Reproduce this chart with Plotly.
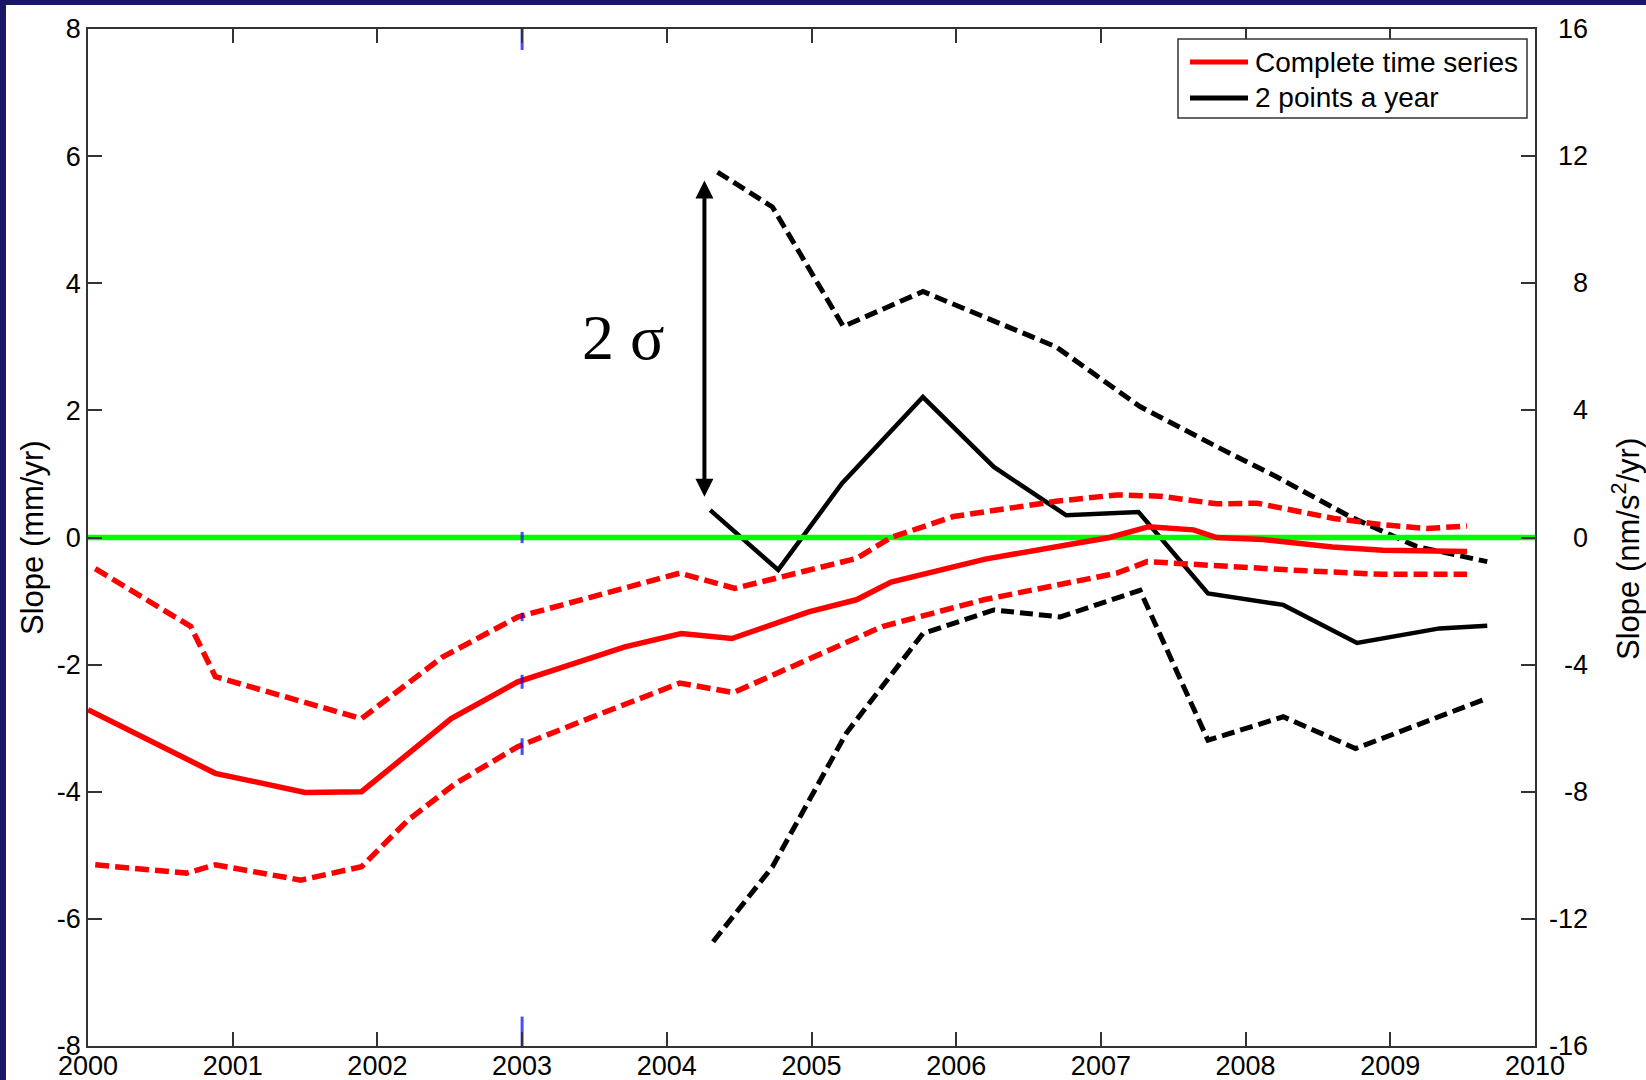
import plotly.graph_objects as go

# ---------------- data ----------------
x_range = [2000, 2010]
x_ticks = list(range(2000, 2011))
x_tick_labels = [str(v) for v in x_ticks]
left_ticks = [-8, -6, -4, -2, 0, 2, 4, 6, 8]
left_tick_labels = ["-8", "-6", "-4", "-2", "0", "2", "4", "6", "8"]
right_ticks = [-16, -12, -8, -4, 0, 4, 8, 12, 16]
right_tick_labels = ["-16", "-12", "-8", "-4", "0", "4", "8", "12", "16"]

# Complete time series (mm/yr)
red_x = [2000.0, 2000.88, 2001.50, 2001.89, 2002.51, 2002.97, 2003.71, 2004.10, 2004.45,
         2004.98, 2005.31, 2005.55, 2006.20, 2006.65, 2007.06, 2007.33, 2007.64, 2007.80,
         2008.12, 2008.60, 2008.95, 2009.53]
red_y = [-2.71, -3.71, -4.01, -4.00, -2.85, -2.27, -1.72, -1.51, -1.59,
         -1.17, -0.98, -0.70, -0.34, -0.17, 0.00, 0.17, 0.12, 0.00,
         -0.03, -0.15, -0.20, -0.22]
red_up_x = [2000.05, 2000.71, 2000.88, 2001.89, 2002.45, 2002.97, 2004.09, 2004.47, 2005.31,
            2005.55, 2005.98, 2006.69, 2007.11, 2007.41, 2007.80, 2008.08, 2008.61, 2008.95,
            2009.25, 2009.53]
red_up_y = [-0.49, -1.40, -2.19, -2.85, -1.88, -1.25, -0.56, -0.80, -0.33,
            0.00, 0.33, 0.57, 0.67, 0.65, 0.53, 0.54, 0.30, 0.20,
            0.14, 0.18]
red_lo_x = [2000.05, 2000.68, 2000.88, 2001.47, 2001.89, 2002.21, 2002.54, 2002.97, 2003.49,
            2004.09, 2004.46, 2005.49, 2006.19, 2006.67, 2007.11, 2007.32, 2007.68, 2008.03,
            2008.38, 2008.95, 2009.53]
red_lo_y = [-5.15, -5.28, -5.15, -5.39, -5.18, -4.45, -3.87, -3.29, -2.82,
            -2.29, -2.44, -1.40, -0.98, -0.77, -0.56, -0.38, -0.43, -0.46,
            -0.52, -0.58, -0.58]

# 2 points a year (mm/yr)
blk_x = [2004.30, 2004.77, 2005.21, 2005.77, 2006.26, 2006.76, 2007.26, 2007.74, 2008.26,
         2008.77, 2009.34, 2009.67]
blk_y = [0.43, -0.51, 0.85, 2.21, 1.11, 0.35, 0.40, -0.88, -1.06,
         -1.66, -1.43, -1.39]
blk_up_x = [2004.35, 2004.73, 2005.22, 2005.77, 2006.69, 2007.27, 2007.80, 2008.21, 2008.72,
            2009.18, 2009.67]
blk_up_y = [5.75, 5.20, 3.32, 3.87, 3.00, 2.06, 1.43, 0.96, 0.33,
            -0.14, -0.38]
blk_lo_x = [2004.32, 2004.73, 2005.24, 2005.77, 2006.26, 2006.72, 2007.27, 2007.74, 2008.26,
            2008.76, 2009.67]
blk_lo_y = [-6.36, -5.18, -3.08, -1.51, -1.14, -1.25, -0.83, -3.19, -2.82,
            -3.32, -2.53]

zero_level = [0, 0]

# legend entries
legend_labels = ["Complete time series", "2 points a year"]
legend_colors = ["red", "black"]

# small blue marks at 2003
blue_x = 2003
blue_levels = [8, 0, -1.25, -2.27, -3.29, -8]

# 2 sigma arrow
sigma_x = 2004.26
sigma_top = 5.64
sigma_bottom = 0.64
sigma_label_x = 2003.70
sigma_label_y = 3.14

# ---------------- styles ----------------
FONT = "Liberation Sans, Arial, sans-serif"
NAVY = "#1a1866"
AX = "#333333"
TICK_SIZE = 27
blue_sizes = [30, 8, 6, 10, 12, 42]

ML, MR, MT, MB = 88, 111, 29, 34
W, H = 1646, 1080
PW, PH = W - ML - MR, H - MT - MB


def px2paper_x(px):
    return (px - ML) / PW


def px2paper_y(py):
    return (H - MB - py) / PH


fig = go.Figure()

# black series
fig.add_trace(go.Scatter(x=blk_up_x, y=blk_up_y, mode="lines", showlegend=False,
                         line=dict(color="black", width=5, dash="13px,6px")))
fig.add_trace(go.Scatter(x=blk_lo_x, y=blk_lo_y, mode="lines", showlegend=False,
                         line=dict(color="black", width=5, dash="13px,6px")))
fig.add_trace(go.Scatter(x=blk_x, y=blk_y, mode="lines", name=legend_labels[1],
                         showlegend=False, line=dict(color="black", width=4.5)))

# green zero line
fig.add_trace(go.Scatter(x=x_range, y=zero_level, mode="lines", showlegend=False,
                         line=dict(color="#00ff00", width=5.5), hoverinfo="skip"))

# red series
fig.add_trace(go.Scatter(x=red_up_x, y=red_up_y, mode="lines", showlegend=False,
                         line=dict(color="red", width=5.5, dash="14px,6px")))
fig.add_trace(go.Scatter(x=red_lo_x, y=red_lo_y, mode="lines", showlegend=False,
                         line=dict(color="red", width=5.5, dash="14px,6px")))
fig.add_trace(go.Scatter(x=red_x, y=red_y, mode="lines", name=legend_labels[0],
                         showlegend=False, line=dict(color="red", width=5.5)))

# blue marks
fig.add_trace(go.Scatter(x=[blue_x] * len(blue_levels), y=blue_levels, mode="markers",
                         showlegend=False, hoverinfo="skip",
                         marker=dict(symbol="line-ns", size=blue_sizes,
                                     line=dict(color="blue", width=3))))

# invisible trace for right axis
fig.add_trace(go.Scatter(x=x_range, y=zero_level, yaxis="y2", mode="lines",
                         showlegend=False, hoverinfo="skip",
                         line=dict(color="rgba(0,0,0,0)", width=0)))

annotations = []
shapes = [dict(type="rect", xref="paper", yref="paper", layer="below",
               x0=px2paper_x(6), x1=px2paper_x(W + 20),
               y0=px2paper_y(H + 20), y1=px2paper_y(5),
               fillcolor="white", line=dict(width=0))]

# right axis tick labels (right-aligned like the original)
for v, t in zip(right_ticks, right_tick_labels):
    annotations.append(dict(x=px2paper_x(1590), xref="paper", xanchor="right",
                            y=v, yref="y2", yanchor="middle", text=t, showarrow=False,
                            font=dict(family=FONT, size=TICK_SIZE, color="black")))
# axis titles
annotations.append(dict(x=px2paper_x(32.5), xref="paper", y=0.5, yref="paper",
                        text="Slope (mm/yr)", textangle=-90, showarrow=False,
                        xanchor="center", yanchor="middle",
                        font=dict(family=FONT, size=31, color="black")))
annotations.append(dict(x=px2paper_x(1626), xref="paper", y=px2paper_y(549), yref="paper",
                        text="Slope (nm/s<sup>2</sup>/yr)", textangle=-90, showarrow=False,
                        xanchor="center", yanchor="middle",
                        font=dict(family=FONT, size=31, color="black")))
# 2 sigma arrow and label
annotations.append(dict(x=sigma_x, y=sigma_bottom, ax=sigma_x, ay=sigma_top,
                        xref="x", yref="y", axref="x", ayref="y", text="",
                        showarrow=True, arrowhead=2, startarrowhead=2, arrowside="end+start",
                        arrowwidth=4, arrowsize=0.9, startarrowsize=0.9, arrowcolor="black",
                        standoff=0, startstandoff=0))
annotations.append(dict(x=sigma_label_x, y=sigma_label_y, xref="x", yref="y",
                        text="2 σ", showarrow=False, xanchor="center", yanchor="middle",
                        font=dict(family="Liberation Serif, Times New Roman, serif",
                                  size=64, color="black")))

# legend box (drawn like the original figure's legend)
shapes.append(dict(type="rect", xref="paper", yref="paper", layer="above",
                   x0=px2paper_x(1178), x1=px2paper_x(1527),
                   y0=px2paper_y(118), y1=px2paper_y(39),
                   fillcolor="white", line=dict(color=AX, width=1.5)))
row_y = [62, 98]
for lab, col, ry in zip(legend_labels, legend_colors, row_y):
    shapes.append(dict(type="line", xref="paper", yref="paper", layer="above",
                       x0=px2paper_x(1190), x1=px2paper_x(1248),
                       y0=px2paper_y(ry), y1=px2paper_y(ry),
                       line=dict(color=col, width=5)))
    annotations.append(dict(x=px2paper_x(1253), xref="paper", xanchor="left",
                            y=px2paper_y(ry), yref="paper", yanchor="middle",
                            text=lab, showarrow=False,
                            font=dict(family=FONT, size=28, color="black")))

axis_common = dict(ticks="inside", ticklen=14, tickwidth=1.5, tickcolor=AX,
                   showline=True, linecolor=AX, linewidth=1.5, showgrid=False,
                   zeroline=False, tickfont=dict(family=FONT, size=TICK_SIZE, color="black"))

fig.update_layout(
    width=W, height=H,
    margin=dict(l=ML, r=MR, t=MT, b=MB, autoexpand=False),
    paper_bgcolor=NAVY, plot_bgcolor="white",
    font=dict(family=FONT, color="black"),
    xaxis=dict(range=x_range, tickvals=x_ticks, ticktext=x_tick_labels, mirror="ticks",
               ticklabelstandoff=-5, **axis_common),
    yaxis=dict(range=[left_ticks[0], left_ticks[-1]], tickvals=left_ticks,
               ticktext=left_tick_labels, **axis_common),
    yaxis2=dict(range=[right_ticks[0], right_ticks[-1]], tickvals=right_ticks,
                overlaying="y", side="right", showticklabels=False, **axis_common),
    shapes=shapes,
    annotations=annotations,
    showlegend=False,
)

fig.write_html("out.html", config={"displayModeBar": False},
               post_script="document.body.style.margin='0';document.body.style.overflow='hidden';")
